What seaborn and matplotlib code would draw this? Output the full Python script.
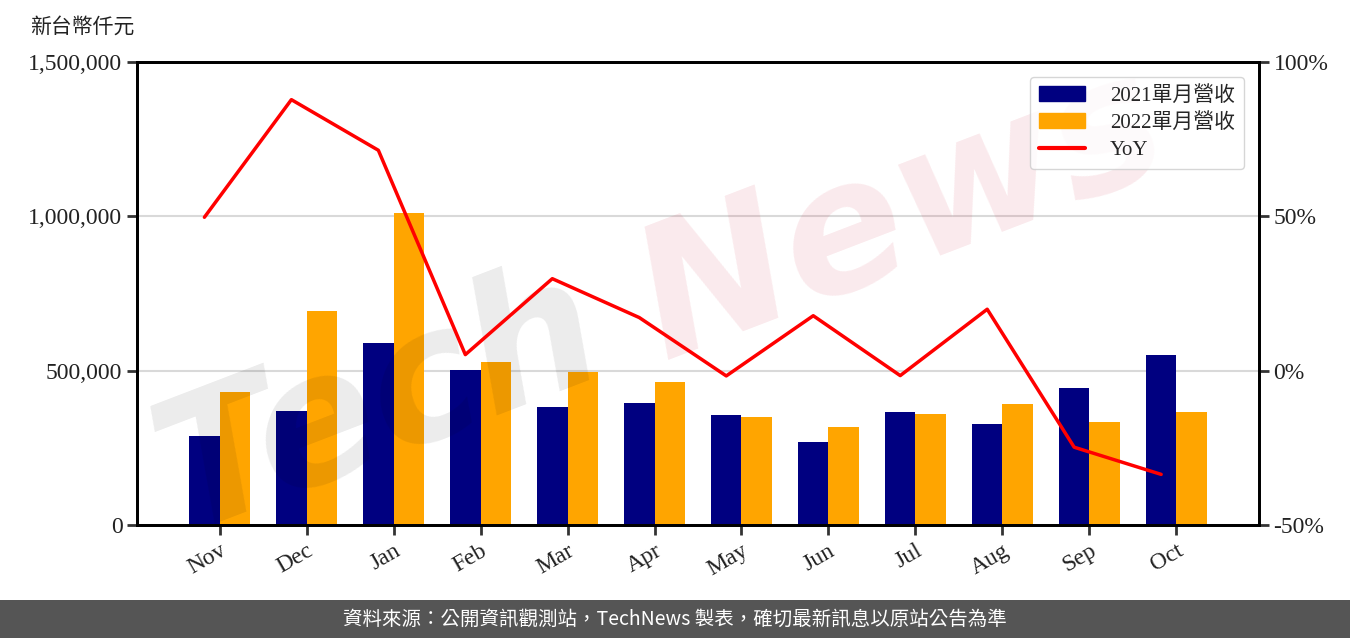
import numpy as np
import pandas as pd
import matplotlib
matplotlib.use("Agg")
import matplotlib.pyplot as plt
import matplotlib.patches as mpatches
from matplotlib.lines import Line2D
from matplotlib.ticker import FuncFormatter
import seaborn as sns

# data (新台幣仟元)
months = ["Nov", "Dec", "Jan", "Feb", "Mar", "Apr", "May", "Jun", "Jul", "Aug", "Sep", "Oct"]
rev_2021 = [288000, 369000, 590000, 502000, 382000, 395000, 356000, 269000, 366000, 327000, 444000, 551000]
rev_2022 = [431000, 693000, 1011000, 528000, 496000, 463000, 350000, 317000, 360000, 392000, 334000, 366000]
yoy = [49.7, 87.8, 71.4, 5.2, 29.8, 17.2, -1.7, 17.8, -1.6, 19.9, -24.8, -33.6]

label_2021 = "2021單月營收"
label_2022 = "2022單月營收"

sns.set_style("ticks")
serif = ["Liberation Serif", "Noto Sans CJK TC", "DejaVu Sans"]
plt.rcParams["font.family"] = serif

df = pd.DataFrame({
    "month": months * 2,
    "revenue": rev_2021 + rev_2022,
    "series": [label_2021] * len(months) + [label_2022] * len(months),
})

fig = plt.figure(figsize=(13.5, 6.38), dpi=100)
ax = fig.add_axes([137 / 1350, 1 - 525 / 638, (1259 - 137) / 1350, (525 - 62) / 638])

sns.barplot(
    data=df, x="month", y="revenue", hue="series",
    palette=["#000080", "#FFA500"], width=0.7, gap=0,
    saturation=1, legend=False, ax=ax, zorder=2, linewidth=0, edgecolor="none",
)
ax.set_xlim(-0.95, 11.95)
ax.set_ylim(0, 1500000)
ax.set_yticks([0, 500000, 1000000, 1500000])
ax.yaxis.set_major_formatter(FuncFormatter(lambda v, _: f"{int(v):,}"))
ax.grid(axis="y", color="#d9d9d9", linewidth=1.5, zorder=0)
ax.set_axisbelow(True)
ax.set_xlabel("")
ax.set_ylabel("")
plt.setp(ax.get_xticklabels(), rotation=30, ha="right", rotation_mode="anchor")

# YoY line on secondary axis, drawn at the 2021 bar centres
ax2 = ax.twinx()
sns.lineplot(x=np.arange(len(months)) - 0.175, y=yoy, color="#FF0000",
             linewidth=2.5, ax=ax2)
ax2.set_ylim(-50, 100)
ax2.set_yticks([-50, 0, 50, 100])
ax2.yaxis.set_major_formatter(FuncFormatter(lambda v, _: f"{int(v)}%"))
ax2.set_xlim(-0.95, 11.95)

for a in (ax, ax2):
    for s in a.spines.values():
        s.set_visible(True)
        s.set_color("black")
        s.set_linewidth(2)
    a.tick_params(labelsize=17, length=7, width=2, color="#333333", labelcolor="#222222")
ax.tick_params(axis="x", pad=4)

# watermark
wm_kw = dict(transform=fig.transFigure, fontsize=130, fontstyle="italic", fontweight="bold",
             fontfamily="DejaVu Sans", ha="left", va="baseline", zorder=5, clip_on=False)
ax.text(0.10, 0.17, "Tech", color="black", alpha=0.08, rotation=21, **wm_kw)
ax.text(0.455, 0.44, "News", color="#d01030", alpha=0.09, rotation=21, **wm_kw)

handles = [
    mpatches.Patch(color="#000080", label=label_2021),
    mpatches.Patch(color="#FFA500", label=label_2022),
    Line2D([0], [0], color="#FF0000", linewidth=3, label="YoY"),
]
ax2.legend(handles=handles, loc="upper right", fontsize=15, frameon=True,
           fancybox=True, edgecolor="#cccccc", borderpad=0.45, labelspacing=0.35,
           handlelength=2.2, handletextpad=1.2, borderaxespad=0.7)

fig.text(30 / 1350, 1 - 27 / 638, "新台幣仟元", fontsize=15,
         fontfamily=["Noto Sans CJK TC"], va="center", ha="left", color="#222222")

# footer band
fig.patches.append(mpatches.Rectangle((0, 0), 1, 38 / 638, transform=fig.transFigure,
                                      facecolor="#555555", edgecolor="none", zorder=0))
fig.text(0.5, 19 / 638, "資料來源：公開資訊觀測站，TechNews 製表，確切最新訊息以原站公告為準",
         fontsize=14, color="white", ha="center", va="center",
         fontfamily=["Noto Sans CJK TC", "DejaVu Sans"])

fig.savefig("out.png", dpi=100)
